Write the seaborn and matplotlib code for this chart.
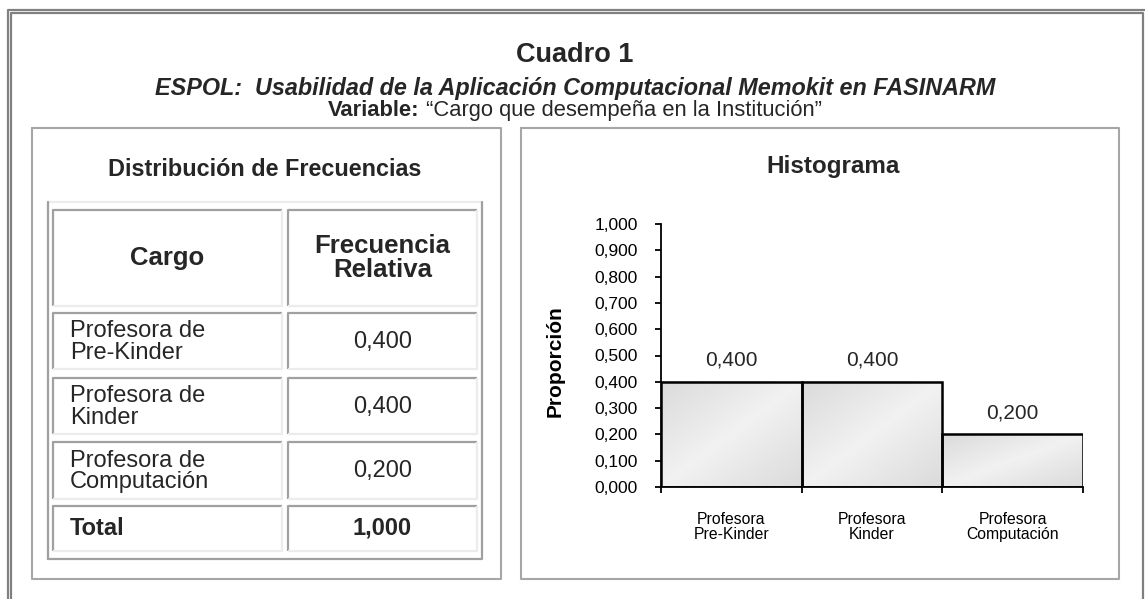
import numpy as np
import pandas as pd
import matplotlib
matplotlib.use("Agg")
import matplotlib.pyplot as plt
import seaborn as sns

# ---------------- data ----------------
categories = ["Profesora\nPre-Kinder", "Profesora\nKinder", "Profesora\nComputación"]
table_labels = ["Profesora de\nPre-Kinder", "Profesora de\nKinder", "Profesora de\nComputación"]
proportions = [0.400, 0.400, 0.200]
total_value = 1.000
y_ticks = [0.0, 0.1, 0.2, 0.3, 0.4, 0.5, 0.6, 0.7, 0.8, 0.9, 1.0]

title = "Cuadro 1"
subtitle = "ESPOL:  Usabilidad de la Aplicación Computacional Memokit en FASINARM"
variable_bold = "Variable:"
variable_text = " \u201cCargo que desempeña en la Institución\u201d"
left_header = "Distribución de Frecuencias"
right_header = "Histograma"
col_headers = ["Cargo", "Frecuencia\nRelativa"]
total_label = "Total"
ylabel = "Proporción"


def fmt(v):
    return f"{v:.3f}".replace(".", ",")


sns.set_theme(style="white")
plt.rcParams["font.family"] = ["Liberation Sans", "DejaVu Sans"]

W, H = 1145, 599
fig = plt.figure(figsize=(W / 100, H / 100), dpi=100, facecolor="white")

# overlay in pixel coordinates (y downward) for frames, table and titles
ov = fig.add_axes([0, 0, 1, 1])
ov.set_xlim(0, W)
ov.set_ylim(H, 0)
ov.axis("off")

# outer double frame
frame_col = "#808080"
ov.plot([7.5, 7.5, W + 5], [H + 5, 9.5, 9.5], color=frame_col, lw=1.6, solid_capstyle="butt")
ov.plot([11, 11, 1143, 1143], [H + 5, 12.5, 12.5, H + 5], color=frame_col, lw=1.6, solid_capstyle="butt")

# panel boxes
box_col = "#a6a6a6"
for (x0, y0, x1, y1) in [(32, 128, 501, 579), (521, 128, 1119, 579)]:
    ov.plot([x0, x1, x1, x0, x0], [y0, y0, y1, y1, y0], color=box_col, lw=1.5)

# titles
ov.text(575, 62, title, ha="center", va="baseline", fontsize=19.5, fontweight="bold")
ov.text(575, 95, subtitle, ha="center", va="baseline", fontsize=16.8,
        fontweight="bold", fontstyle="italic")
t1 = ov.text(0, 116, variable_bold, ha="left", va="baseline", fontsize=15.8, fontweight="bold")
t2 = ov.text(0, 116, variable_text, ha="left", va="baseline", fontsize=15.8)
fig.canvas.draw()
r = fig.canvas.get_renderer()
w1 = t1.get_window_extent(r).width
w2 = t2.get_window_extent(r).width
start = 575 - (w1 + w2) / 2
t1.set_x(start)
t2.set_x(start + w1)

ov.text(265, 176, left_header, ha="center", va="baseline", fontsize=16.8, fontweight="bold")
ov.text(833, 173, right_header, ha="center", va="baseline", fontsize=17.5, fontweight="bold")

# ---------------- table ----------------
dark, light = "#a0a0a0", "#ececec"


def cell(x0, y0, x1, y1, tl=dark, br=light, lw=1.6):
    ov.plot([x0, x0, x1], [y1, y0, y0], color=tl, lw=lw, solid_capstyle="butt")
    ov.plot([x1, x1, x0], [y0, y1, y1], color=br, lw=lw, solid_capstyle="butt")


# outer table frame
ov.plot([48, 48, 482], [559, 202, 202], color=light, lw=1.6)
ov.plot([482, 482, 48], [202, 559, 559], color=dark, lw=1.6)
ov.plot([48, 48], [202, 559], color=dark, lw=1.6)

cols = [(53, 282), (288, 477)]
rows = [(210, 306), (313, 369), (378, 434), (442, 499), (506, 551)]
for (ya, yb) in rows:
    for (xa, xb) in cols:
        cell(xa, ya, xb, yb)

c0 = (cols[0][0] + cols[0][1]) / 2
c1 = (cols[1][0] + cols[1][1]) / 2
hy = (rows[0][0] + rows[0][1]) / 2
ov.text(c0, hy, col_headers[0], ha="center", va="center", fontsize=18.5, fontweight="bold")
ov.text(c1, hy, col_headers[1], ha="center", va="center", fontsize=18.5, fontweight="bold",
        linespacing=1.0)
for (ya, yb), lab, val in zip(rows[1:4], table_labels, proportions):
    cy = (ya + yb) / 2 + 1
    ov.text(70, cy, lab, ha="left", va="center", fontsize=17, linespacing=0.98)
    ov.text(c1, cy, fmt(val), ha="center", va="center", fontsize=17)
ty = (rows[4][0] + rows[4][1]) / 2
ov.text(70, ty, total_label, ha="left", va="center", fontsize=17, fontweight="bold")
ov.text(c1, ty, fmt(total_value), ha="center", va="center", fontsize=17, fontweight="bold")

# ---------------- histogram ----------------
ax = fig.add_axes([661 / W, 1 - 487 / H, (1083 - 661) / W, (487 - 224) / H])
ax.patch.set_alpha(0)
df = pd.DataFrame({"cargo": categories, "prop": proportions})
sns.barplot(data=df, x="cargo", y="prop", width=1.0, color="#e4e4e4", saturation=1,
            edgecolor="black", linewidth=1.8, ax=ax, zorder=3)

# gradient fill inside each bar
n = 120
X, Y = np.meshgrid(np.linspace(0, 1, n), np.linspace(0, 1, n))
s = (X + Y) / 2
grad = 0.855 + (0.945 - 0.855) * (1 - np.abs(2 * s - 1))
for p in list(ax.patches):
    x0, y0, w, h = p.get_x(), p.get_y(), p.get_width(), p.get_height()
    p.set_facecolor("none")
    ax.imshow(grad, extent=[x0, x0 + w, y0, y0 + h], origin="upper", cmap="gray",
              vmin=0, vmax=1, aspect="auto", zorder=2, interpolation="bilinear")

ax.set_xlim(-0.5, 2.5)
ax.set_ylim(0, 1.0)
ax.bar_label(ax.containers[0], labels=[fmt(v) for v in proportions], padding=8.5,
             fontsize=15)

for side in ["top", "right"]:
    ax.spines[side].set_visible(False)
for side in ["left", "bottom"]:
    ax.spines[side].set_color("black")
    ax.spines[side].set_linewidth(1.3)

ax.set_yticks(y_ticks)
ax.set_yticklabels([fmt(v) for v in y_ticks])
ax.tick_params(axis="y", direction="out", length=4.5, width=1.3, pad=12,
               labelsize=12.5, colors="black", left=True)

ax.set_xticks(range(len(categories)))
ax.set_xticklabels(categories, fontsize=11.3, linespacing=1.0)
ax.tick_params(axis="x", which="major", length=0, pad=18, colors="black")
ax.set_xticks([-0.5, 0.5, 1.5, 2.5], minor=True)
ax.tick_params(axis="x", which="minor", direction="out", length=4.5, width=1.3,
               bottom=True, colors="black")
ax.set_xlabel("")

ax.set_ylabel(ylabel, fontsize=15, fontweight="bold", color="black")
ax.yaxis.label.set_verticalalignment("center")
ax.yaxis.set_label_coords((555 - 661) / (1083 - 661), (487 - 361) / (487 - 224))
ax.grid(False)

fig.savefig("out.png", dpi=100, facecolor="white")
